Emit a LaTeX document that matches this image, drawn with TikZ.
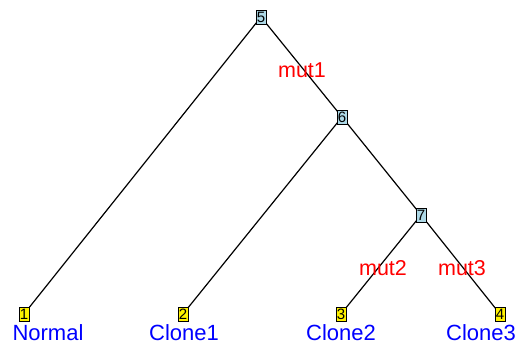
\documentclass[tikz,border=0pt]{standalone}
\usepackage{fontspec}
\setmainfont{Liberation Sans}
\definecolor{lblue}{HTML}{ADD8E6}
\definecolor{pblue}{RGB}{0,0,255}
\definecolor{pred}{RGB}{255,0,0}
\tikzset{
  inner/.style={draw=black, line width=0.9pt, fill=lblue, minimum width=10pt, minimum height=14pt, inner sep=0pt, font=\fontsize{15}{15}\selectfont},
  leaf/.style={draw=black, line width=0.9pt, fill=yellow, minimum width=10pt, minimum height=14pt, inner sep=0pt, font=\fontsize{15}{15}\selectfont},
  edge/.style={draw=black, line width=1.2pt},
  mut/.style={text=pred, font=\fontsize{21.5}{21.5}\selectfont, inner sep=0pt},
  tip/.style={text=pblue, font=\fontsize{22}{22}\selectfont, inner sep=0pt},
}
\begin{document}
\begin{tikzpicture}[x=1pt,y=-1pt]
\useasboundingbox (0,0) rectangle (517,347);
\coordinate (c5) at (261,17);
\coordinate (c6) at (342,117);
\coordinate (c7) at (421,215);
\coordinate (c1) at (24,314);
\coordinate (c2) at (183,314);
\coordinate (c3) at (341,314);
\coordinate (c4) at (500,314);
\draw[edge] (c5) -- (c1);
\draw[edge] (c5) -- (c6);
\draw[edge] (c6) -- (c2);
\draw[edge] (c6) -- (c7);
\draw[edge] (c7) -- (c3);
\draw[edge] (c7) -- (c4);
\node[inner] (n5) at (c5) {5};
\node[inner] (n6) at (c6) {6};
\node[inner] (n7) at (c7) {7};
\node[leaf] (n1) at (c1) {1};
\node[leaf] (n2) at (c2) {2};
\node[leaf] (n3) at (c3) {3};
\node[leaf] (n4) at (c4) {4};
\node[mut] (m1) at (302,70) {mut1};
\node[mut] (m2) at (383,268) {mut2};
\node[mut] (m3) at (462,268) {mut3};
\node[tip] (t1) at (48,333) {Normal};
\node[tip] (t2) at (184,333) {Clone1};
\node[tip] (t3) at (341,333) {Clone2};
\node[tip] (t4) at (481,333) {Clone3};
\end{tikzpicture}
\end{document}
